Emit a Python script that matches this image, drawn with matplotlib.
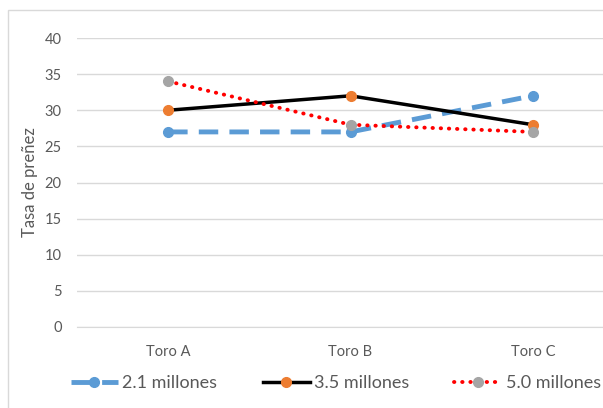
import matplotlib.pyplot as plt
from matplotlib.patches import Rectangle

# ---------------------------------------------------------------------------------------------------
# Data
# ---------------------------------------------------------------------------------------------------
categories = ["Toro A", "Toro B", "Toro C"]
series_names = ["2.1 millones", "3.5 millones", "5.0 millones"]
vals_21 = [27, 27, 32]
vals_35 = [30, 32, 28]
vals_50 = [34, 28, 27]
y_ticks = [0, 5, 10, 15, 20, 25, 30, 35, 40]

plt.rcParams['font.family'] = ['Lato', 'DejaVu Sans']
txt_col = "#595959"

fig = plt.figure(figsize=(6.03, 4.08), dpi=100)
# axes extends past the right edge like the cropped original
ax = fig.add_axes([77 / 603, 81 / 408, 547 / 603, 289 / 408])

x = range(len(categories))
ax.plot(x, vals_21, color="#5B9BD5", lw=3.5, ls=(0, (4, 2.3)), marker="o", ms=7,
        mfc="#5B9BD5", mec="#5B9BD5", label=series_names[0], zorder=3)
ax.plot(x, vals_35, color="black", lw=2.5, ls="-", marker="o", ms=7,
        mfc="#ED7D31", mec="#ED7D31", label=series_names[1], zorder=4)
ax.plot(x, vals_50, color="#FF0000", lw=2.8, ls=(0, (0.1, 2.0)), dash_capstyle="round",
        marker="o", ms=7, mfc="#A5A5A5", mec="#A5A5A5", label=series_names[2], zorder=5)

ax.set_xlim(-0.5, 2.5)
ax.set_ylim(0, 40)
ax.set_yticks(y_ticks)
ax.set_xticks(list(x))
ax.set_xticklabels(categories)
ax.grid(axis="y", color="#D9D9D9", lw=1)
ax.set_axisbelow(True)
for s in ax.spines.values():
    s.set_visible(False)
ax.spines["bottom"].set_visible(True)
ax.spines["bottom"].set_color("#D9D9D9")
ax.tick_params(length=0, labelsize=10.5, colors=txt_col)
ax.tick_params(axis="x", pad=13)
ax.tick_params(axis="y", pad=11)
ax.set_ylabel("Tasa de preñez", fontsize=12, color=txt_col)
ax.yaxis.set_label_coords((38 - 77) / 547, 0.5)

fig.legend(loc="center left", bbox_to_anchor=(71 / 603, 1 - 383 / 408), ncol=3,
           frameon=False, fontsize=13, labelcolor=txt_col, handlelength=2.6,
           handletextpad=0.25, columnspacing=2.5, borderaxespad=0, borderpad=0)

# chart border (cropped on right and bottom)
fig.patches.append(Rectangle((8 / 603, -0.05), 1.1, 1 - 10 / 408 + 0.05,
                             transform=fig.transFigure, fill=False, ec="#D9D9D9", lw=1))

fig.savefig("out.png", dpi=100)
